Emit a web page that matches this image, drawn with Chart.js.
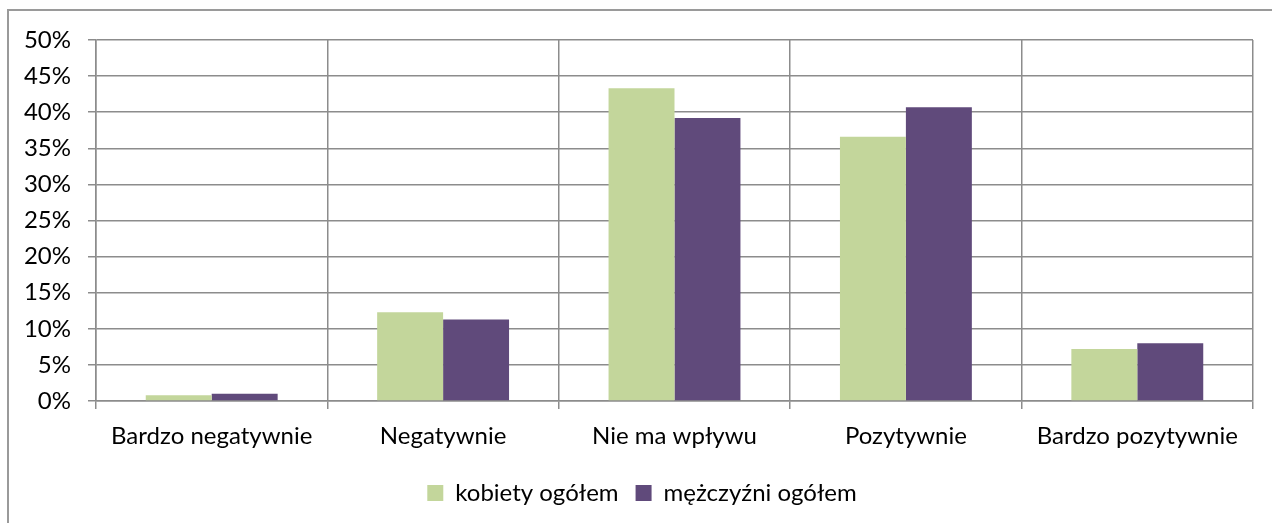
<!DOCTYPE html>
<html>
<head>
<meta charset="utf-8">
<script src="https://cdn.jsdelivr.net/npm/chart.js@4/dist/chart.umd.min.js"></script>
<style>
  html, body { margin: 0; padding: 0; background: #fff; overflow: hidden; }
  #wrap { position: absolute; left: 0; top: 0; width: 1272px; height: 525px; }
  #frame { position: absolute; left: 7px; top: 9px; width: 1280px; height: 514px;
           border-left: 2px solid #9a9a9a; border-top: 2px solid #9a9a9a; box-sizing: border-box; }
  canvas { position: absolute; left: 0; top: 0; }
</style>
</head>
<body>
<div id="wrap">
  <div id="frame"></div>
  <canvas id="c" width="1272" height="525"></canvas>
</div>
<script>
const categories = ["Bardzo negatywnie", "Negatywnie", "Nie ma wpływu", "Pozytywnie", "Bardzo pozytywnie"];
const seriesNames = ["kobiety ogółem", "mężczyźni ogółem"];
const kobiety = [0.8, 12.3, 43.3, 36.6, 7.2];
const mezczyzni = [1.0, 11.3, 39.2, 40.7, 8.0];
const yTicks = [0, 5, 10, 15, 20, 25, 30, 35, 40, 45, 50];

const FONT = "Lato";
const FS = 24;
const gridColor = "#8c8c8c";

const shiftLegend = {
  id: "shiftLegend",
  afterLayout(chart) {
    if (chart.legend) { chart.legend.left += 15.5; chart.legend.right += 15.5; }
  }
};

new Chart(document.getElementById("c"), {
  type: "bar",
  data: {
    labels: categories,
    datasets: [
      { label: seriesNames[0], data: kobiety, backgroundColor: "#C3D69B", borderWidth: 0 },
      { label: seriesNames[1], data: mezczyzni, backgroundColor: "#604A7B", borderWidth: 0 }
    ]
  },
  plugins: [shiftLegend],
  options: {
    responsive: false,
    animation: false,
    devicePixelRatio: 1,
    categoryPercentage: 0.57,
    barPercentage: 1.0,
    layout: { padding: { top: 40, right: 19, bottom: 10, left: 0 } },
    scales: {
      x: {
        grid: { color: gridColor, lineWidth: 1.5, tickLength: 8, offset: true },
        border: { color: gridColor, width: 1.5 },
        ticks: { color: "#000", font: { family: FONT, size: FS }, padding: 13, maxRotation: 0 },
        afterFit: (s) => { s.height = 63; }
      },
      y: {
        min: 0, max: 50,
        afterBuildTicks: (s) => { s.ticks = yTicks.map(v => ({ value: v })); },
        grid: { color: gridColor, lineWidth: 1.5, tickLength: 8 },
        border: { color: gridColor, width: 1.5 },
        ticks: { color: "#000", font: { family: FONT, size: FS }, padding: 17,
                 callback: (v) => v + "%" },
        afterFit: (s) => { s.width = 96; }
      }
    },
    plugins: {
      legend: {
        position: "bottom",
        labels: { color: "#000", font: { family: FONT, size: FS }, boxWidth: 16, boxHeight: 16, padding: 17 }
      },
      tooltip: { enabled: false },
      title: { display: false }
    }
  }
});
</script>
</body>
</html>
